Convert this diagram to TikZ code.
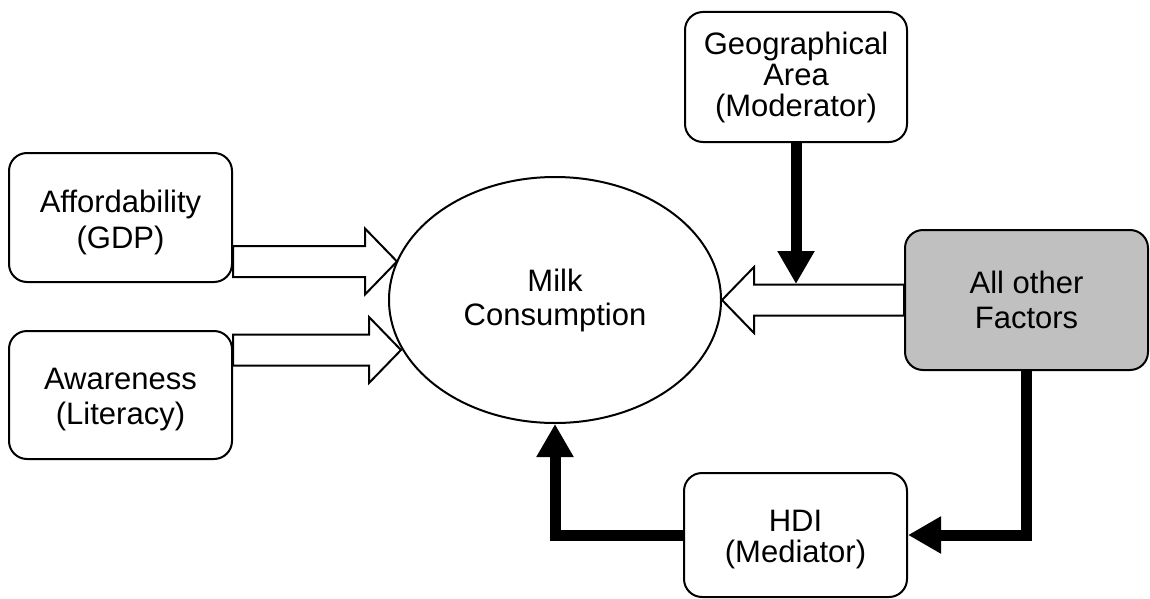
\documentclass[tikz,border=0pt]{standalone}
\usepackage{fontspec}
\setmainfont{Liberation Sans}
\usetikzlibrary{arrows.meta,calc,shapes.geometric}
\definecolor{boxgray}{RGB}{192,192,192}
% invisible strut that pushes a centred label a little lower
\newcommand{\topstrut}[1]{\rule{0pt}{#1}}
\begin{document}
\begin{tikzpicture}[x=1pt,y=-1pt,
  every node/.style={align=center, inner sep=0pt},
  lines/.style={font=\fontsize{31}{#1}\selectfont},
  factor/.style={draw, line width=2pt, rounded corners=18pt, minimum width=223pt},
  outcome/.style={draw, line width=2pt, ellipse, minimum width=332pt, minimum height=246pt},
  % hollow block arrow running from the start point to the target point
  blockarrow/.style={draw, line width=2pt, fill=white, line join=miter,
    to path={
      let \p1=(\tikztostart), \p2=(\tikztotarget),
          \p3=($(\p2)!32pt!(\p1)$) in
      ($(\p1)!15.5pt!90:(\p2)$) -- ($(\p3)!15.5pt!-90:(\p1)$)
      -- ($(\p3)!33pt!-90:(\p1)$) -- (\p2) -- ($(\p3)!33pt!90:(\p1)$)
      -- ($(\p3)!15.5pt!90:(\p1)$) -- ($(\p1)!15.5pt!-90:(\p2)$) -- cycle}},
  heavy/.style={line width=11pt, line join=miter,
    -{Triangle[length=33pt,width=35pt]}}
]
\useasboundingbox (0,0) rectangle (1150,599);

% factor boxes
\node[factor, lines=36.5, minimum height=129pt] (aff) at (120.5,217.5) {\topstrut{32pt}Affordability\\(GDP)};
\node[factor, lines=35, minimum height=128pt] (aware) at (120.5,395) {\topstrut{30pt}Awareness\\(Literacy)};
\node[factor, lines=31, minimum width=222pt, minimum height=130pt] (geo) at (796,77) {Geographical\\Area\\(Moderator)};
\node[factor, lines=34.5, fill=boxgray, minimum width=243pt, minimum height=140pt] (others) at (1026.5,300) {All other\\Factors};
\node[factor, lines=31, minimum height=124pt] (hdi) at (795.5,535) {\topstrut{30pt}HDI\\(Mediator)};

% outcome
\node[outcome, lines=34] (milk) at (555,300) {Milk\\Consumption};

% points where the arrows meet the ellipse and the moderated path
\coordinate (affTip) at (397,261.5);
\coordinate (awareTip) at (401,350);
\coordinate (modTip) at (796,284);

% direct effects
\draw[blockarrow] (aff.east |- affTip) to (affTip);
\draw[blockarrow] (aware.east |- awareTip) to (awareTip);
\draw[blockarrow] (others.west) to (milk.east);

% moderator
\draw[heavy] (geo) -- (modTip);

% mediated path
\draw[heavy] (others.south) |- (hdi.east);
\draw[heavy] (hdi.west) -| (milk.south);
\end{tikzpicture}
\end{document}
